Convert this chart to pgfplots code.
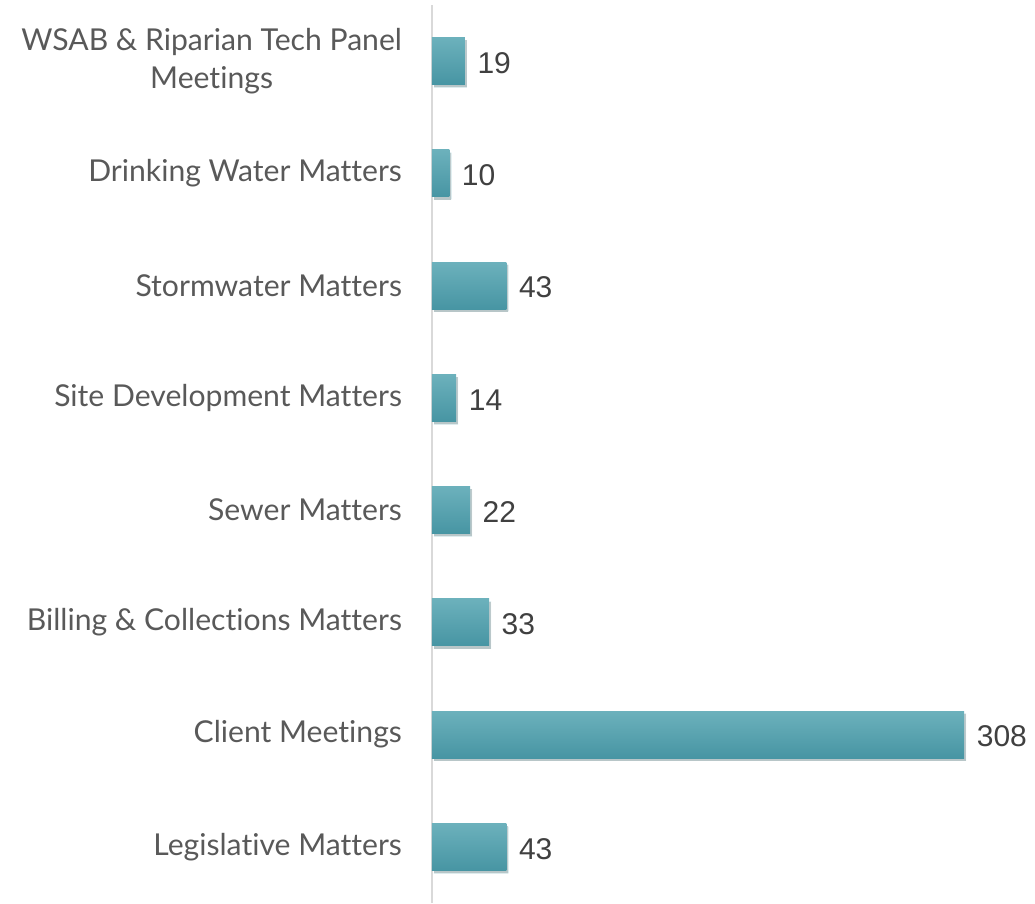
\documentclass[border=0pt]{standalone}
\usepackage{pgfplots}
\pgfplotsset{compat=1.18}
\usepackage{fontspec}
\setmainfont{Lato}[Ligatures={NoCommon}]
\newfontfamily\numfont{Liberation Sans}
\usetikzlibrary{shadows}
\definecolor{bartop}{HTML}{6CB1BC}
\definecolor{barbot}{HTML}{4795A3}
\definecolor{labgray}{HTML}{595959}
\definecolor{numgray}{HTML}{404040}
\definecolor{axgray}{HTML}{D9D9D9}

\begin{document}
\begin{tikzpicture}[x=0.75pt,y=0.75pt]
\begin{axis}[
    at={(0,0)}, anchor=south west,
    scale only axis,
    width=452.25pt, height=673.5pt,
    xbar, bar width=35.25pt, bar shift=0pt,
    xmin=0, xmax=349, ymin=-0.5, ymax=7.5,
    axis x line=none,
    axis y line*=left,
    y axis line style={draw=axgray, line width=2pt, -},
    ytick={0,...,7},
    major tick length=0pt,
    yticklabels={Legislative Matters, Client Meetings, Billing \& Collections Matters, Sewer Matters, Site Development Matters, Stormwater Matters, Drinking Water Matters, {WSAB \& Riparian Tech Panel\\Meetings}},
    yticklabel style={font=\fontsize{22.6}{28.5}\selectfont, text=labgray, align=center, xshift=-19pt},
    nodes near coords={\numfont\pgfmathprintnumber[assume math mode=true]{\pgfplotspointmeta}},
    nodes near coords style={font=\fontsize{22.5}{26}\selectfont, text=numgray, anchor=west, xshift=6pt, yshift=-1.5pt},
    every axis plot/.append style={draw=none, top color=bartop, bottom color=barbot,
        drop shadow={shadow xshift=1.5pt, shadow yshift=-2pt, opacity=0.18, fill=black}},
    clip=false,
]
\addplot coordinates {(43,0)};
\addplot coordinates {(308,1)};
\addplot coordinates {(33,2)};
\addplot coordinates {(22,3)};
\addplot coordinates {(14,4)};
\addplot coordinates {(43,5)};
\addplot coordinates {(10,6)};
\addplot coordinates {(19,7)};
\coordinate (tr) at (rel axis cs:1,1);
\coordinate (bl) at (rel axis cs:0,0);
\end{axis}
\pgfresetboundingbox
\path[use as bounding box] ([xshift=-324pt]bl) rectangle ([yshift=3.75pt]tr);
\end{tikzpicture}
\end{document}
